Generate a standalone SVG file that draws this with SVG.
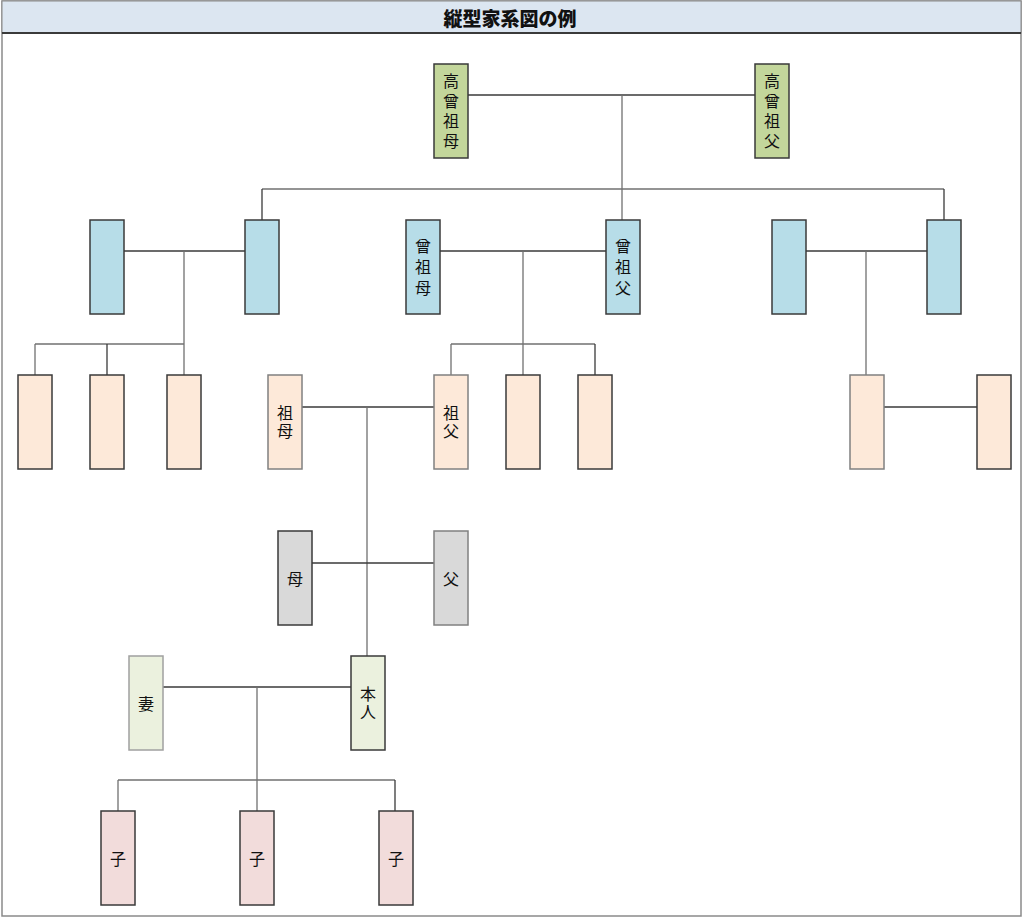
<svg xmlns="http://www.w3.org/2000/svg" width="1024" height="919" viewBox="0 0 1024 919">
<style>
.n{stroke:#3a3a3a;stroke-width:1.5}
.g1{fill:#c3d69b}.bl{fill:#b7dde8}.or{fill:#fde9d9}.gr{fill:#d9d9d9}.lg{fill:#ebf1de}.pk{fill:#f2dcdb}
.t{font-family:"Noto Sans CJK JP","Noto Sans CJK SC",serif;font-size:16px;fill:#111;text-anchor:middle;dominant-baseline:central}
.v4,.v3,.v2{font-family:"Noto Sans CJK JP","Noto Sans CJK SC",serif;font-size:16px;fill:#111;text-anchor:middle;writing-mode:vertical-rl}
.v4{letter-spacing:4px}.v3{letter-spacing:5px}.v2{letter-spacing:2px}
.c line{stroke:#3a3a3a;stroke-width:1.3}
.c line.v{stroke:#707070}
</style>
<rect x="2" y="1" width="1019" height="915" fill="#ffffff" stroke="#8a8a8a" stroke-width="1.5"/>
<rect x="2" y="1" width="1019" height="32" fill="#dce6f1" stroke="#8a8a8a" stroke-width="1"/>
<line x1="2" y1="33" x2="1021" y2="33" stroke="#3a3a3a" stroke-width="2"/>
<text x="510" y="17" style="font-family:'Noto Sans CJK JP','Noto Sans CJK SC',sans-serif;font-size:19px;font-weight:900;fill:#111;text-anchor:middle;dominant-baseline:central">縦型家系図の例</text>
<g class="c" id="connectors">
<line x1="468" y1="95" x2="755" y2="95"/>
<line class="v" x1="622" y1="95" x2="622" y2="220"/>
<line class="v" x1="262" y1="189" x2="944" y2="189"/>
<line x1="262" y1="189" x2="262" y2="220"/>
<line x1="944" y1="189" x2="944" y2="220"/>
<line x1="124" y1="251" x2="245" y2="251"/>
<line class="v" x1="184" y1="251" x2="184" y2="375"/>
<line class="v" x1="35" y1="344" x2="184" y2="344"/>
<line class="v" x1="35" y1="344" x2="35" y2="375"/>
<line x1="107" y1="344" x2="107" y2="375"/>
<line x1="440" y1="251" x2="606" y2="251"/>
<line class="v" x1="523" y1="251" x2="523" y2="375"/>
<line class="v" x1="451" y1="344" x2="595" y2="344"/>
<line class="v" x1="451" y1="344" x2="451" y2="375"/>
<line x1="595" y1="344" x2="595" y2="375"/>
<line x1="806" y1="251" x2="927" y2="251"/>
<line class="v" x1="866" y1="251" x2="866" y2="375"/>
<line x1="884" y1="407" x2="977" y2="407"/>
<line x1="302" y1="407" x2="434" y2="407"/>
<line class="v" x1="367" y1="407" x2="367" y2="656"/>
<line x1="312" y1="563" x2="434" y2="563"/>
<line x1="163" y1="687" x2="351" y2="687"/>
<line class="v" x1="257" y1="687" x2="257" y2="811"/>
<line class="v" x1="118" y1="780" x2="395" y2="780"/>
<line class="v" x1="118" y1="780" x2="118" y2="811"/>
<line x1="395" y1="780" x2="395" y2="811"/>
</g>
<g id="n-kosofubo"><rect class="n g1" x="434" y="64" width="34" height="94"/><text class="v4" x="451" y="113">高曾祖母</text></g>
<g id="n-kosofu"><rect class="n g1" x="755" y="64" width="34" height="94"/><text class="v4" x="772" y="113">高曾祖父</text></g>
<g id="n-b1"><rect class="n bl" x="90" y="220" width="34" height="94"/></g>
<g id="n-b2"><rect class="n bl" x="245" y="220" width="34" height="94"/></g>
<g id="n-sosobo"><rect class="n bl" x="406" y="220" width="34" height="94"/><text class="v3" x="423" y="269">曾祖母</text></g>
<g id="n-sosofu"><rect class="n bl" x="606" y="220" width="34" height="94"/><text class="v3" x="623" y="269">曾祖父</text></g>
<g id="n-b5"><rect class="n bl" x="772" y="220" width="34" height="94"/></g>
<g id="n-b6"><rect class="n bl" x="927" y="220" width="34" height="94"/></g>
<g id="n-o1"><rect class="n or" x="18" y="375" width="34" height="94"/></g>
<g id="n-o2"><rect class="n or" x="90" y="375" width="34" height="94"/></g>
<g id="n-o3"><rect class="n or" x="167" y="375" width="34" height="94"/></g>
<g id="n-sobo"><rect class="n or" x="268" y="375" width="34" height="94" style="stroke:#808080"/><text class="v2" x="285" y="423">祖母</text></g>
<g id="n-sofu"><rect class="n or" x="434" y="375" width="34" height="94" style="stroke:#808080"/><text class="v2" x="451" y="423">祖父</text></g>
<g id="n-o6"><rect class="n or" x="506" y="375" width="34" height="94"/></g>
<g id="n-o7"><rect class="n or" x="578" y="375" width="34" height="94"/></g>
<g id="n-o8"><rect class="n or" x="850" y="375" width="34" height="94" style="stroke:#808080"/></g>
<g id="n-o9"><rect class="n or" x="977" y="375" width="34" height="94"/></g>
<g id="n-haha"><rect class="n gr" x="278" y="531" width="34" height="94"/><text class="t" x="295" y="578">母</text></g>
<g id="n-chichi"><rect class="n gr" x="434" y="531" width="34" height="94" style="stroke:#808080"/><text class="t" x="451" y="578">父</text></g>
<g id="n-tsuma"><rect class="n lg" x="129" y="656" width="34" height="94" style="stroke:#a0a0a0"/><text class="t" x="146" y="703">妻</text></g>
<g id="n-honnin"><rect class="n lg" x="351" y="656" width="34" height="94"/><text class="v2" x="368" y="704">本人</text></g>
<g id="n-ko1"><rect class="n pk" x="101" y="811" width="34" height="94"/><text class="t" x="118" y="858">子</text></g>
<g id="n-ko2"><rect class="n pk" x="240" y="811" width="34" height="94"/><text class="t" x="257" y="858">子</text></g>
<g id="n-ko3"><rect class="n pk" x="379" y="811" width="34" height="94"/><text class="t" x="396" y="858">子</text></g>
</svg>
